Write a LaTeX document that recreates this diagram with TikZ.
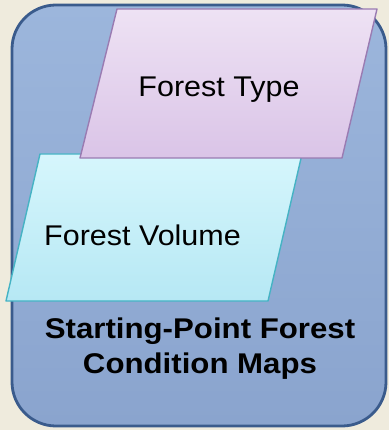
\documentclass[tikz,border=0pt]{standalone}
\usepackage{fontspec}
\setmainfont{Liberation Sans}
\definecolor{pagebg}{HTML}{EFEBDD}
\definecolor{frameline}{HTML}{3A5B8C}
\definecolor{frametop}{HTML}{9CB6DC}
\definecolor{framebot}{HTML}{8AA4CE}
\definecolor{typeline}{HTML}{9A7BB2}
\definecolor{typetop}{HTML}{EEE2F4}
\definecolor{typebot}{HTML}{DAC4E7}
\definecolor{volline}{HTML}{45B3C4}
\definecolor{voltop}{HTML}{D6F6FC}
\definecolor{volbot}{HTML}{B6E8F4}
\tikzset{
  maplabel/.style={font=\fontsize{28.5}{34}\selectfont, text=black, inner sep=0pt, anchor=base, xscale=1.07},
  captionlabel/.style={font=\fontsize{28.5}{35}\selectfont\bfseries, text=black, inner sep=0pt, align=center, xscale=1.095},
}
\begin{document}
\begin{tikzpicture}[x=1pt,y=-1pt]
  % page
  \fill[pagebg] (0,0) rectangle (389,430);
  \useasboundingbox (0,0) rectangle (389,430);
  % outer rounded panel
  \shade[top color=frametop, bottom color=framebot, draw=frameline, line width=2.8pt, rounded corners=44pt]
    (12,5) rectangle (386,426);
  \coordinate (frame) at (199,215);
  % forest volume sheet (lower, drawn first)
  \shade[top color=voltop, bottom color=volbot, draw=volline, line width=1.4pt, line join=round]
    (40,154) -- (302,154) -- (268,301) -- (6,301) -- cycle;
  % forest type sheet (upper, overlapping the volume sheet)
  \shade[top color=typetop, bottom color=typebot, draw=typeline, line width=1.4pt, line join=round]
    (117,9) -- (377,9) -- (342,158) -- (80,158) -- cycle;
  % labels
  \node[maplabel] (typeMap) at (219,97) {Forest Type};
  \node[maplabel] (volumeMap) at (142.5,245) {Forest Volume};
  \node[captionlabel, anchor=base] (caption) at (200,373) {Starting-Point Forest\\Condition Maps};
\end{tikzpicture}
\end{document}
